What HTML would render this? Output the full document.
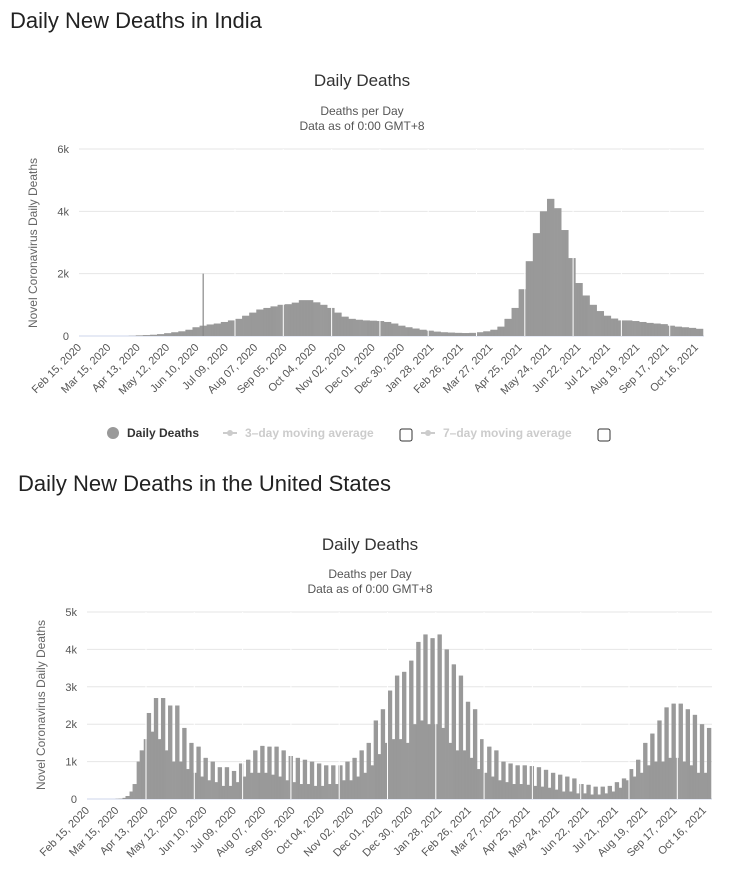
<!DOCTYPE html>
<html><head><meta charset="utf-8"><style>
html,body{margin:0;padding:0;background:#fff;width:736px;height:888px;overflow:hidden}
svg{display:block;font-family:"Liberation Sans",Arial,sans-serif}
</style></head><body>
<svg id="s" width="736" height="888" viewBox="0 0 736 888">
<text x="10" y="28" font-size="22" fill="#222">Daily New Deaths in India</text>
<text x="362" y="86" font-size="17" fill="#333" text-anchor="middle">Daily Deaths</text>
<text x="362" y="115" font-size="12" fill="#555" text-anchor="middle">Deaths per Day</text>
<text x="362" y="130" font-size="12" fill="#555" text-anchor="middle">Data as of 0:00 GMT+8</text>
<text transform="translate(37,243) rotate(-90)" font-size="12" fill="#666" text-anchor="middle">Novel Coronavirus Daily Deaths</text>
<g>
<g><circle cx="113" cy="433" r="6" fill="#999"/><text x="127" y="437" font-size="12" font-weight="bold" fill="#333">Daily Deaths</text></g>
<g><line x1="223" y1="433" x2="237" y2="433" stroke="#ccc" stroke-width="2"/><circle cx="230" cy="433" r="3" fill="#ccc"/><text x="245" y="437" font-size="12" font-weight="bold" fill="#ccc">3–day moving average</text></g>
<rect x="400" y="429" width="12" height="12" rx="2" fill="#fff" stroke="#333"/>
<g><line x1="421" y1="433" x2="435" y2="433" stroke="#ccc" stroke-width="2"/><circle cx="428" cy="433" r="3" fill="#ccc"/><text x="443" y="437" font-size="12" font-weight="bold" fill="#ccc">7–day moving average</text></g>
<rect x="598" y="429" width="12" height="12" rx="2" fill="#fff" stroke="#333"/>
</g>
<text x="18" y="491" font-size="22" fill="#222">Daily New Deaths in the United States</text>
<text x="370" y="550" font-size="17" fill="#333" text-anchor="middle">Daily Deaths</text>
<text x="370" y="578" font-size="12" fill="#555" text-anchor="middle">Deaths per Day</text>
<text x="370" y="593" font-size="12" fill="#555" text-anchor="middle">Data as of 0:00 GMT+8</text>
<text transform="translate(45,705) rotate(-90)" font-size="12" fill="#666" text-anchor="middle">Novel Coronavirus Daily Deaths</text>
<g id="india"></g>
<g id="us"></g>
</svg>
<script>
const xTickLabels=["Feb 15, 2020","Mar 15, 2020","Apr 13, 2020","May 12, 2020","Jun 10, 2020","Jul 09, 2020","Aug 07, 2020","Sep 05, 2020","Oct 04, 2020","Nov 02, 2020","Dec 01, 2020","Dec 30, 2020","Jan 28, 2021","Feb 26, 2021","Mar 27, 2021","Apr 25, 2021","May 24, 2021","Jun 22, 2021","Jul 21, 2021","Aug 19, 2021","Sep 17, 2021","Oct 16, 2021"];
const indiaYTicks=[0,2000,4000,6000];
const indiaYLabels=["0","2k","4k","6k"];
const usYTicks=[0,1000,2000,3000,4000,5000];
const usYLabels=["0","1k","2k","3k","4k","5k"];
// weekly values, week i starts Feb 15 2020 + 7i
const indiaWeekly=[0,0,0,0,0,0,0,5,20,30,40,60,90,120,150,200,280,330,370,400,450,500,550,650,750,850,900,950,1000,1020,1070,1150,1150,1080,1000,900,750,620,550,520,500,490,480,450,400,330,280,240,200,170,140,120,110,100,95,100,120,150,200,300,550,900,1500,2400,3300,4000,4400,4100,3400,2500,1700,1300,1000,800,650,560,500,500,480,450,420,400,380,330,300,280,260,230];
const indiaSpikeDay=[122];
const indiaSpikeValue=[2000];
const usWeeklyHigh=[0,0,0,0,10,80,400,1300,2300,2700,2700,2500,2500,1900,1500,1400,1100,1000,850,850,750,950,1050,1300,1420,1400,1400,1300,1150,1100,1050,1000,950,900,900,900,1000,1100,1300,1500,2100,2400,2900,3300,3400,3700,4200,4400,4300,4400,4000,3600,3300,2600,2400,1600,1400,1300,1000,950,900,900,880,850,780,700,650,600,550,400,380,330,330,350,450,550,800,1050,1500,1750,2100,2450,2550,2550,2400,2250,2000,1900];
const usWeeklyLow=[0,0,0,0,5,30,200,1000,1600,1800,1600,1300,1000,1000,800,700,600,500,450,350,350,450,600,700,700,700,650,600,500,450,400,400,350,350,400,400,500,500,600,700,900,1200,1500,1600,1600,1500,2000,2100,2000,2000,1900,1500,1300,1300,1100,800,700,600,500,450,400,400,380,350,330,300,250,200,200,150,150,120,120,150,200,300,500,600,700,900,1000,1000,1100,1100,1000,900,700,700];

const NS="http://www.w3.org/2000/svg";
function mk(parent,tag,attrs){const e=document.createElementNS(NS,tag);for(const k in attrs)e.setAttribute(k,attrs[k]);parent.appendChild(e);return e;}

function drawChart(g,cfg){
  const totalDays=cfg.weeks*7;
  const x=d=>cfg.left+(d/cfg.dayTick29)*29*cfg.pxPerDay;
  const y=v=>cfg.bottom-(v/cfg.yMax)*(cfg.bottom-cfg.top);
  cfg.yTicks.forEach((t,i)=>{
    const ln=mk(g,'line',{x1:cfg.left,x2:cfg.right,y1:y(t),y2:y(t),stroke:i===0?'#ccd6eb':'#e6e6e6','stroke-width':1});
    
    
    const tx=mk(g,'text',{x:cfg.left-10,y:y(t)+4,'font-size':11,fill:'#555','text-anchor':'end'});
    tx.textContent=cfg.yLabels[i];
    
    
  });
  const bw=cfg.pxPerDay;
  for(let d=0;d<totalDays;d++){
    const w=Math.floor(d/7);const dd=d%7;
    let v=cfg.high?(dd<3?cfg.low[w]:cfg.high[w]):cfg.values[w];
    if(v<=0)continue;
    const xx=cfg.left+d*bw;
    if(xx>cfg.right)break;
    const r=mk(g,'rect',{x:xx,y:y(v),width:Math.min(bw+0.3,cfg.right-xx),height:cfg.bottom-y(v),fill:'#999'});
    
    
  }
  if(cfg.spikeDay){cfg.spikeDay.forEach((d,i)=>{
    const r=mk(g,'rect',{x:cfg.left+d*bw,y:y(cfg.spikeValue[i]),width:1.2,height:cfg.bottom-y(cfg.spikeValue[i]),fill:'#888'});
    
    
  });}
  for(let px=cfg.whiteStart;px<cfg.right;px+=48.3){
    const l=mk(g,'line',{x1:px,x2:px,y1:cfg.top,y2:cfg.bottom,stroke:'#fff','stroke-width':1});
    
    
  }
  xTickLabels.forEach((lab,i)=>{
    const tx0=cfg.left+i*29*bw+3;
    const t=mk(g,'text',{transform:`translate(${tx0},${cfg.bottom+12}) rotate(-45)`,'font-size':11,fill:'#555','text-anchor':'end'});
    t.textContent=lab;
    
    
  });
}
drawChart(document.getElementById('india'),{left:79,right:704,top:149,bottom:336,yMax:6000,yTicks:indiaYTicks,yLabels:indiaYLabels,values:indiaWeekly,weeks:indiaWeekly.length,pxPerDay:625/617,dayTick29:29,spikeDay:indiaSpikeDay,spikeValue:indiaSpikeValue,whiteStart:235});
drawChart(document.getElementById('us'),{left:87,right:712,top:612,bottom:799,yMax:5000,yTicks:usYTicks,yLabels:usYLabels,high:usWeeklyHigh,low:usWeeklyLow,weeks:usWeeklyHigh.length,pxPerDay:625/617,dayTick29:29,whiteStart:146});
</script>
</body></html>
